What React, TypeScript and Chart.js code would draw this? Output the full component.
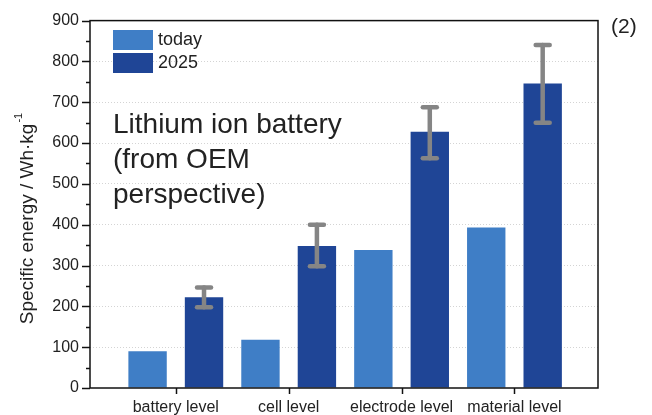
import React, { useEffect, useRef } from 'react';
import { Chart, registerables } from 'chart.js';

Chart.register(...registerables);

const categories = ['battery level', 'cell level', 'electrode level', 'material level'];
const todayValues = [90, 118, 338, 393];
const values2025 = [222, 348, 628, 746];
const errHigh2025 = [246, 400, 688, 840];
const errLow2025 = [198, 298, 563, 650];
const legendLabels = ['today', '2025'];
const annotationLines = ['Lithium ion battery', '(from OEM', 'perspective)'];
const panelLabel = '(2)';
const yTitleMain = 'Specific energy / Wh\u00B7kg';
const yTitleSup = '-1';

const FONT = '"Liberation Sans", Arial, Helvetica, sans-serif';
const TODAY_COLOR = '#3f7ec6';
const C2025_COLOR = '#1f4596';
const TEXT = '#222222';

const overlayPlugin = {
  id: 'overlay',
  afterDatasetsDraw(chart: any) {
    const ctx = chart.ctx;
    const y = chart.scales.y;
    const meta = chart.getDatasetMeta(1);
    ctx.save();
    ctx.strokeStyle = '#858585';
    ctx.lineCap = 'round';
    ctx.lineWidth = 4.5;
    meta.data.forEach((bar: any, i: number) => {
      const hi = y.getPixelForValue(errHigh2025[i]);
      const lo = y.getPixelForValue(errLow2025[i]);
      ctx.beginPath();
      ctx.moveTo(bar.x, hi);
      ctx.lineTo(bar.x, lo);
      ctx.stroke();
      [hi, lo].forEach((py) => {
        ctx.beginPath();
        ctx.moveTo(bar.x - 7, py);
        ctx.lineTo(bar.x + 7, py);
        ctx.stroke();
      });
    });
    ctx.restore();
  },
  afterDraw(chart: any) {
    const ctx = chart.ctx;
    const { left, right, top, bottom } = chart.chartArea;
    const x = chart.scales.x;
    const y = chart.scales.y;
    ctx.save();
    // frame
    ctx.strokeStyle = '#111';
    ctx.lineWidth = 1.5;
    ctx.strokeRect(left, top, right - left, bottom - top);
    // y ticks (major + minor)
    for (let v = 0; v <= 900; v += 50) {
      const py = Math.round(y.getPixelForValue(v)) + 0.5;
      const len = v % 100 === 0 ? 8 : 4;
      ctx.beginPath();
      ctx.moveTo(left - len, py);
      ctx.lineTo(left, py);
      ctx.stroke();
    }
    // x ticks
    categories.forEach((_, i) => {
      const px = Math.round(x.getPixelForValue(i)) + 0.5;
      ctx.beginPath();
      ctx.moveTo(px, bottom);
      ctx.lineTo(px, bottom + 6);
      ctx.stroke();
    });
    // legend
    const colors = [TODAY_COLOR, C2025_COLOR];
    ctx.font = `18px ${FONT}`;
    ctx.textBaseline = 'middle';
    ctx.textAlign = 'left';
    legendLabels.forEach((lab, i) => {
      const ty = 30 + i * 23;
      ctx.fillStyle = colors[i];
      ctx.fillRect(113, ty, 40, 20);
      ctx.fillStyle = TEXT;
      ctx.fillText(lab, 158, ty + 10);
    });
    // annotation
    ctx.font = `28px ${FONT}`;
    ctx.textBaseline = 'alphabetic';
    ctx.fillStyle = TEXT;
    annotationLines.forEach((line, i) => {
      ctx.fillText(line, 113, 133 + i * 35);
    });
    // panel label
    ctx.font = `21px ${FONT}`;
    ctx.textBaseline = 'middle';
    ctx.fillText(panelLabel, 611, 27);
    // y title
    ctx.translate(28, 219);
    ctx.rotate(-Math.PI / 2);
    ctx.font = `19px ${FONT}`;
    const wMain = ctx.measureText(yTitleMain).width;
    ctx.font = `11px ${FONT}`;
    const wSup = ctx.measureText(yTitleSup).width;
    const start = -(wMain + wSup) / 2;
    ctx.font = `19px ${FONT}`;
    ctx.textBaseline = 'middle';
    ctx.fillText(yTitleMain, start, 0);
    ctx.font = `11px ${FONT}`;
    ctx.fillText(yTitleSup, start + wMain + 1, -9);
    ctx.restore();
  },
};

export default function App() {
  const canvasRef = useRef<HTMLCanvasElement | null>(null);

  useEffect(() => {
    if (!canvasRef.current) return;
    const chart = new Chart(canvasRef.current, {
      type: 'bar',
      data: {
        datasets: [
          {
            label: legendLabels[0],
            data: todayValues.map((v, i) => ({ x: i, y: v })),
            backgroundColor: TODAY_COLOR,
            categoryPercentage: 1.0,
            barPercentage: 0.68,
          },
          {
            label: legendLabels[1],
            data: values2025.map((v, i) => ({ x: i, y: v })),
            backgroundColor: C2025_COLOR,
            categoryPercentage: 1.0,
            barPercentage: 0.68,
          },
        ],
      },
      options: {
        responsive: false,
        animation: false,
        layout: { padding: { top: 15, right: 54, left: 0, bottom: 0 } },
        plugins: { legend: { display: false }, tooltip: { enabled: false } },
        scales: {
          x: {
            type: 'linear',
            min: -0.76,
            max: 3.74,
            offset: false,
            grid: { display: false, drawTicks: false },
            border: { display: false },
            afterBuildTicks: (scale: any) => {
              scale.ticks = categories.map((_, i) => ({ value: i }));
            },
            afterFit: (scale: any) => {
              scale.height = 27;
            },
            ticks: {
              autoSkip: false,
              maxRotation: 0,
              padding: 10,
              color: TEXT,
              font: { family: FONT, size: 16 },
              callback: (v: any) => categories[v as number] ?? '',
            },
          },
          y: {
            min: 0,
            max: 900,
            grid: {
              drawTicks: false,
              color: (c: any) =>
                c.tick && (c.tick.value === 0 || c.tick.value === 900) ? 'rgba(0,0,0,0)' : '#d4d4d4',
              lineWidth: 1,
            },
            border: { display: false, dash: [1, 2] },
            afterFit: (scale: any) => {
              scale.width = 90;
            },
            ticks: {
              stepSize: 100,
              padding: 11,
              color: TEXT,
              font: { family: FONT, size: 16 },
            },
          },
        },
      },
      plugins: [overlayPlugin],
    } as any);
    return () => chart.destroy();
  }, []);

  return (
    <div style={{ position: 'absolute', left: 0, top: 0, width: 652, height: 415, background: '#fff' }}>
      <canvas ref={canvasRef} width={652} height={415} style={{ display: 'block' }} />
    </div>
  );
}
